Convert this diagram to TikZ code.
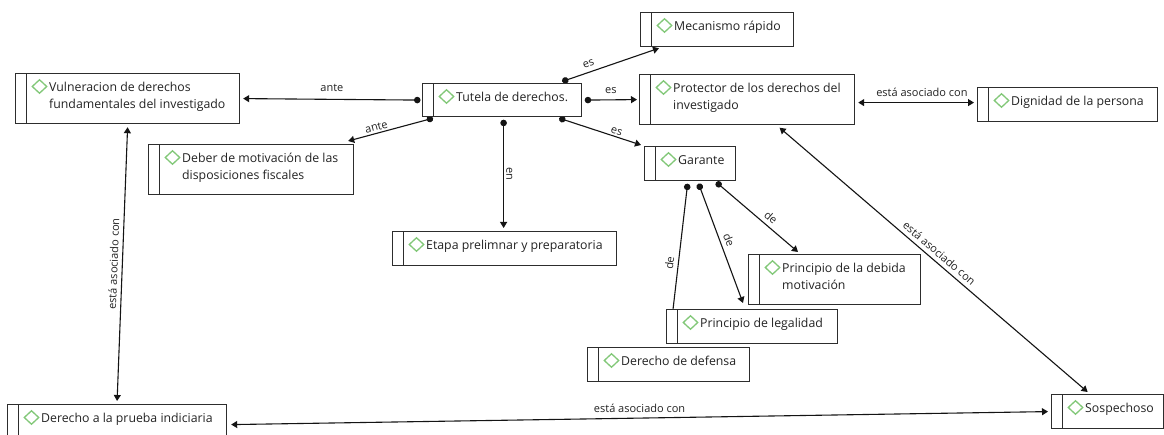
\documentclass[tikz,border=0pt]{standalone}
\usepackage{fontspec}
\setmainfont{Open Sans}
\usetikzlibrary{shapes.geometric,arrows.meta,calc}
\definecolor{boxc}{RGB}{45,45,45}
\definecolor{txtc}{RGB}{35,35,35}
\definecolor{linec}{RGB}{20,20,20}
\definecolor{iconc}{RGB}{130,200,120}
\pgfdeclarelayer{bg}
\pgfsetlayers{bg,main}
\newcommand{\boxtext}[1]{\parbox[t]{260pt}{\setlength{\baselineskip}{17pt}\raggedright #1}}
\newcommand{\concept}[6]{%
  \node[box, minimum width=#4pt, minimum height=#5pt] (#1) at (#2,#3) {};
  \node[icon] (#1i) at ($(#1.north west)+(24.5,13.5)$) {};
  \node[txt] (#1t) at ($(#1.north west)+(34,18.5)$) {\boxtext{#6}};}
\begin{document}
\begin{tikzpicture}[x=1pt,y=-1pt,
  box/.style={draw=boxc, fill=white, line width=1.2pt, inner sep=0, anchor=north west,
    path picture={\draw[boxc, line width=1.2pt]
      ([xshift=10.5pt]path picture bounding box.north west) --
      ([xshift=10.5pt]path picture bounding box.south west);}},
  icon/.style={diamond, draw=iconc, line width=1.3pt, minimum width=15pt, minimum height=14pt, inner sep=0},
  txt/.style={anchor=base west, inner sep=0, font=\fontsize{12.3}{17}\selectfont, text=txtc},
  conn/.style={draw=linec, line width=1.1pt, {Circle[length=6.5pt]}-{Triangle[length=6pt,width=7pt]}},
  both/.style={draw=linec, line width=1.1pt, {Triangle[length=6pt,width=7pt]}-{Triangle[length=6pt,width=7pt]}},
  lab/.style={font=\fontsize{11}{13}\selectfont, text=txtc, inner sep=2pt}]
\useasboundingbox (0,0) rectangle (1164,435);
\concept{vul}{15}{73}{224}{50}{Vulneracion de derechos\\fundamentales del investigado}
\concept{tut}{422}{83}{159}{33}{Tutela de derechos.}
\concept{mec}{640}{12}{153}{34}{Mecanismo rápido}
\concept{pro}{639}{74}{215}{50}{Protector de los derechos del\\investigado}
\concept{gar}{644}{146}{91}{34}{Garante}
\concept{deb}{148}{144}{205}{50}{Deber de motivación de las\\disposiciones fiscales}
\concept{eta}{392}{231}{224}{34}{Etapa prelimnar y preparatoria}
\concept{dig}{977}{87}{180}{34}{Dignidad de la persona}
\concept{pdm}{748}{254}{172}{50}{Principio de la debida\\motivación}
\concept{leg}{666}{309}{171}{34}{Principio de legalidad}
\concept{def}{587}{347}{162}{34}{Derecho de defensa}
\concept{dpi}{7}{404}{219}{36}{Derecho a la prueba indiciaria}
\concept{sos}{1051}{394}{112}{34}{Sospechoso}
\begin{pgfonlayer}{bg}
\fill[white] (0,0) rectangle (1164,435);
\draw[conn] ([xshift=-1.5pt]tut.west) -- ([xshift=3pt]vul.east) node[lab, midway, above=5pt] (l1) {ante};
\draw[conn] ([xshift=11pt,yshift=-1pt]tut.south west) -- ([xshift=-6pt,yshift=3pt]deb.north east) node[lab, pos=0.65, sloped, above] (l2) {ante};
\draw[conn] ([xshift=-20pt,yshift=1.5pt]tut.north east) -- ([xshift=19pt,yshift=-1pt]mec.south west) node[lab, pos=0.3, sloped, above=3pt] (l3) {es};
\draw[conn] ([xshift=2.5pt]tut.east) -- ([xshift=-2pt]pro.west) node[lab, midway, above=4pt] (l4) {es};
\draw[conn] ([xshift=-23pt,yshift=-1pt]tut.south east) -- ([xshift=-3pt,yshift=1pt]gar.north west) node[lab, pos=0.68, sloped, above] (l5) {es};
\draw[conn] ([xshift=1.5pt,yshift=-2.5pt]tut.south) -- ([xshift=-1pt,yshift=3pt]eta.north) node[lab, midway, rotate=-90, anchor=south] (l6) {en};
\draw[both] ([xshift=3pt,yshift=-3pt]pro.east) -- ([xshift=-3pt,yshift=2pt]dig.west) node[lab, pos=0.55, above=3pt] (l7) {está asociado con};
\draw[both] ([xshift=32.5pt,yshift=-2.5pt]pro.south) -- ([xshift=-20pt,yshift=2pt]sos.north) node[lab, midway, sloped, above=2pt] (l8) {está asociado con};
\draw[both] ([yshift=3pt]dpi.north) -- ([yshift=-3pt]vul.south) node[lab, midway, sloped, above=2pt] (l9) {está asociado con};
\draw[both] ([xshift=4pt,yshift=-2pt]dpi.east) -- ([xshift=-3pt]sos.west) node[lab, midway, above=3pt] (l10) {está asociado con};
\draw[conn] ([xshift=-20pt,yshift=-1pt]gar.south east) -- ([xshift=50pt,yshift=2pt]pdm.north west) node[lab, pos=0.6, sloped, above=2pt] (l11) {de};
\draw[conn] ([xshift=8.5pt,yshift=-2.5pt]gar.south) -- ([xshift=77pt,yshift=6pt]leg.north west) node[lab, midway, sloped, above=2pt] (l12) {de};
\draw[conn] ([xshift=-2.5pt,yshift=-2.5pt]gar.south) -- ([xshift=82pt,yshift=3pt]def.north west) node[lab, midway, sloped, above=2pt] (l13) {de};
\end{pgfonlayer}
\end{tikzpicture}
\end{document}
